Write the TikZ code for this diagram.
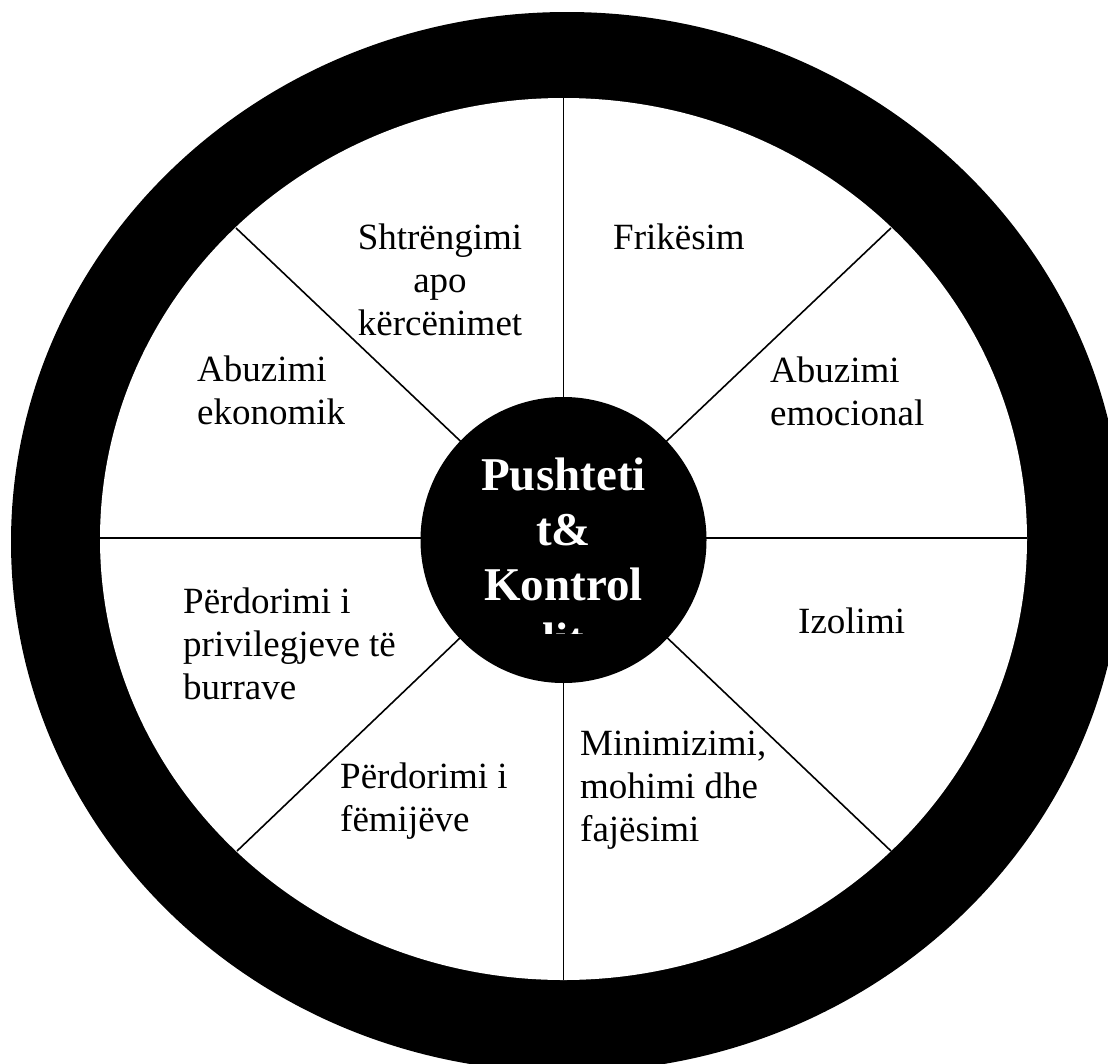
\documentclass[tikz,border=0pt]{standalone}
\usepackage{fontspec}
\setmainfont{Liberation Serif}
\begin{document}
\begin{tikzpicture}[x=1pt,y=-1pt,
  spoke/.style={line width=1.6pt, black},
  lbl/.style={font=\fontsize{37}{43}\selectfont, inner sep=0pt, anchor=base west},
  lblc/.style={font=\fontsize{37}{43}\selectfont, inner sep=0pt, anchor=base},
  hubtxt/.style={font=\fontsize{47}{55}\selectfont\bfseries, text=white, inner sep=0pt, anchor=base}]
\useasboundingbox (0,0) rectangle (1108,1063);
\clip (0,0) rectangle (1108,1063);
\fill[white] (0,0) rectangle (1108,1063);
\coordinate (c) at (563.5,539);
\coordinate (co) at (567,542);
% ring
\fill[black] (co) ellipse [x radius=556pt, y radius=530pt];
\fill[white] (c) ellipse [x radius=463.5pt, y radius=441pt];
% spoke ends
\coordinate (sN) at (563.5,98);
\coordinate (sS) at (563.5,980);
\coordinate (sW) at (100,538);
\coordinate (sE) at (1027,538);
\coordinate (sNW) at (236,228);
\coordinate (sNE) at (891,228);
\coordinate (sSW) at (237,851);
\coordinate (sSE) at (891,851);
\coordinate (cW) at (563.5,538);
\draw[spoke] (c) -- (sN);
\draw[spoke] (c) -- (sS);
\draw[spoke] (cW) -- (sW);
\draw[spoke] (cW) -- (sE);
\draw[spoke] (c) -- (sNW);
\draw[spoke] (c) -- (sNE);
\draw[spoke] (c) -- (sSW);
\draw[spoke] (c) -- (sSE);
% hub
\node[circle, fill=black, minimum size=286pt, inner sep=0pt] (hub) at (563.5,540) {};
\begin{scope}
\clip (0,0) rectangle (1108,633);
\node[hubtxt] (h1) at (563.5,490) {Pushteti};
\node[hubtxt] (h2) at (563.5,545) {t\&};
\node[hubtxt] (h3) at (563.5,600) {Kontrol};
\node[hubtxt] (h4) at (563.5,655) {lit};
\end{scope}
% labels
\node[lblc] (a1) at (440,249) {Shtrëngimi};
\node[lblc] (a2) at (440,292) {apo};
\node[lblc] (a3) at (440,335) {kërcënimet};
\node[lbl] (b1) at (613,249) {Frikësim};
\node[lbl] (c1) at (770,382) {Abuzimi};
\node[lbl] (c2) at (770,425) {emocional};
\node[lbl] (d1) at (197,381) {Abuzimi};
\node[lbl] (d2) at (197,424) {ekonomik};
\node[lbl] (e1) at (183,613) {Përdorimi i};
\node[lbl] (e2) at (183,656) {privilegjeve të};
\node[lbl] (e3) at (183,699) {burrave};
\node[lbl] (f1) at (798,633) {Izolimi};
\node[lbl] (g1) at (340,788) {Përdorimi i};
\node[lbl] (g2) at (340,831) {fëmijëve};
\node[lbl] (k1) at (580,755) {Minimizimi,};
\node[lbl] (k2) at (580,798) {mohimi dhe};
\node[lbl] (k3) at (580,841) {fajësimi};
\end{tikzpicture}
\end{document}
